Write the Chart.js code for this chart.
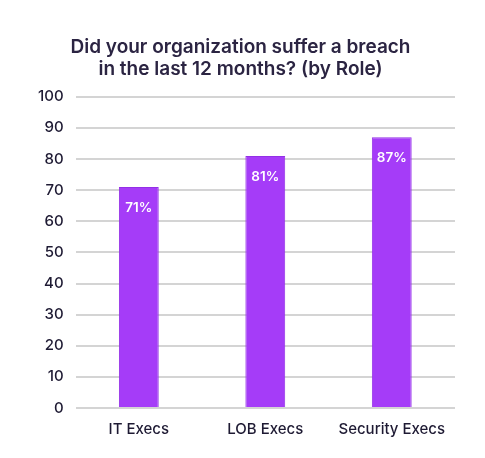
<!DOCTYPE html>
<html>
<head>
<meta charset="utf-8">
<script src="https://cdn.jsdelivr.net/npm/chart.js@4"></script>
<style>
html,body{margin:0;padding:0;background:#fff;}
#wrap{width:485px;height:458px;}
</style>
</head>
<body>
<div id="wrap"><canvas id="c"></canvas></div>
<script>
const categories = ["IT Execs", "LOB Execs", "Security Execs"];
const values = [71, 81, 87];
const valueLabels = ["71%", "81%", "87%"];
const titleLines = ["Did your organization suffer a breach", "in the last 12 months? (by Role)"];

const labelPlugin = {
  id: 'barLabels',
  afterDatasetsDraw(chart) {
    const ctx = chart.ctx;
    const meta = chart.getDatasetMeta(0);
    ctx.save();
    ctx.fillStyle = '#ffffff';
    ctx.font = '600 13.5px Inter, "Open Sans", sans-serif';
    ctx.textAlign = 'center';
    ctx.textBaseline = 'middle';
    meta.data.forEach((bar, i) => {
      ctx.fillText(valueLabels[i], bar.x, bar.y + 21);
    });
    ctx.restore();
  }
};

new Chart(document.getElementById('c'), {
  type: 'bar',
  data: {
    labels: categories,
    datasets: [{
      data: values,
      backgroundColor: '#a53cf8',
      borderColor: '#9330e6',
      borderWidth: 1,
      barPercentage: 0.315,
      categoryPercentage: 1.0
    }]
  },
  options: {
    responsive: true,
    maintainAspectRatio: false,
    animation: false,
    layout: { padding: { left: 26, right: 30, top: 36, bottom: 16 } },
    plugins: {
      legend: { display: false },
      tooltip: { enabled: false },
      title: {
        display: true,
        text: titleLines,
        color: '#2b2442',
        font: { family: 'Inter, "Open Sans", sans-serif', size: 19, weight: '600', lineHeight: 1.18 },
        padding: { top: 0, bottom: 16 }
      }
    },
    scales: {
      x: {
        grid: { display: false, drawBorder: false },
        border: { display: false },
        ticks: { color: '#1e1a33', font: { family: 'Inter, "Open Sans", sans-serif', size: 15, weight: '500' }, padding: 4 }
      },
      y: {
        min: 0, max: 100,
        ticks: { stepSize: 10, color: '#1e1a33', font: { family: 'Inter, "Open Sans", sans-serif', size: 15, weight: '500' }, padding: 12 },
        grid: { color: '#d4d4d4', lineWidth: 2, drawTicks: false },
        border: { display: false }
      }
    }
  },
  plugins: [labelPlugin]
});
</script>
</body>
</html>
